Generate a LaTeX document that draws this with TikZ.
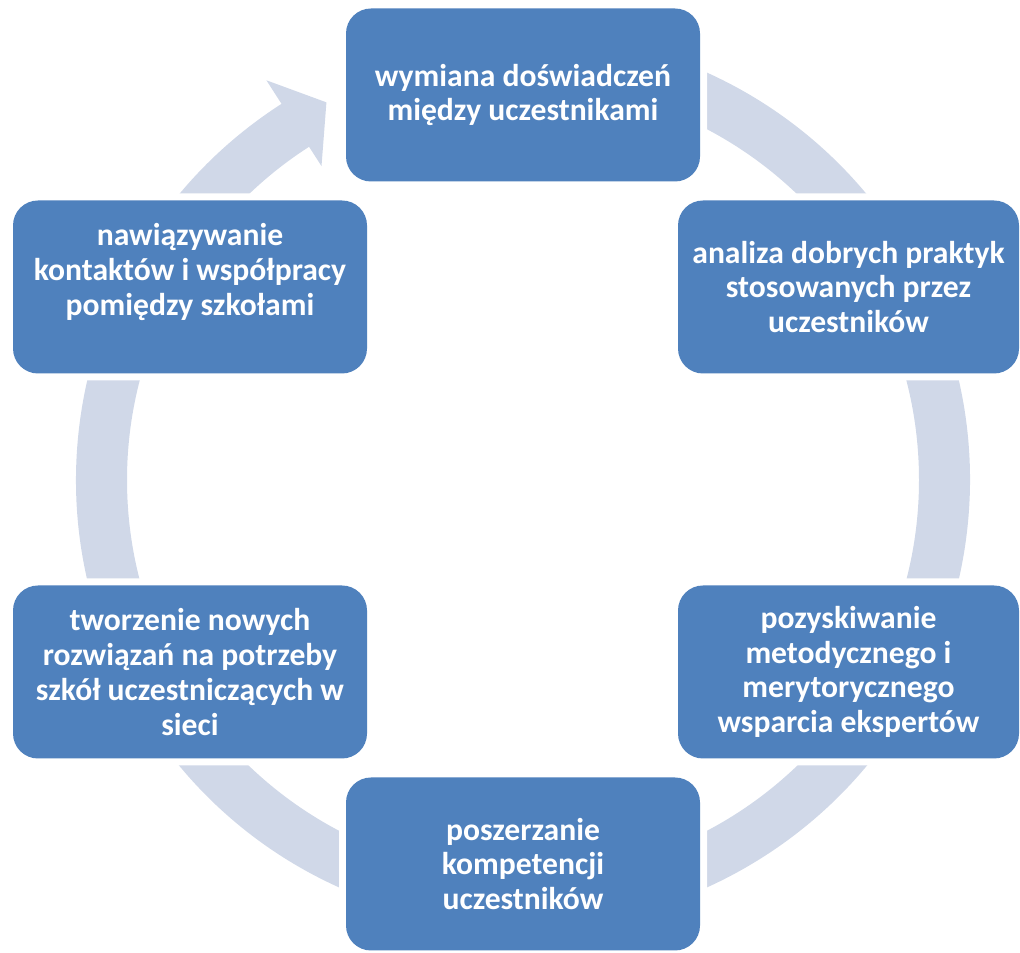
\documentclass[tikz,border=0pt]{standalone}
\usepackage{fontspec}
\setmainfont{Carlito}
\definecolor{cycleblue}{RGB}{79,129,189}
\definecolor{ringgrey}{RGB}{208,216,232}

\begin{document}
\begin{tikzpicture}[
    etap/.style={rectangle, rounded corners=0.5cm, fill=cycleblue,
        preaction={draw=white, line width=0.28cm},
        minimum width=7.08cm, minimum height=3.46cm, inner sep=2pt,
        align=center, text=white, font=\fontsize{18}{19.8}\selectfont\bfseries},
    etapwaski/.style={etap, minimum width=6.82cm}
]
\useasboundingbox (0,0) rectangle (20.4,19.06);

% pierscien ze strzalka
\begin{scope}[shift={(10.46,9.46)}]
    \fill[ringgrey] (122.7:7.92) -- (122.7:7.46) -- (117.5:8.515) -- (122.7:9.5) -- (122.7:8.94)
        arc[start angle=122.7, end angle=450, radius=8.94] -- (90:7.92)
        arc[start angle=450, end angle=122.7, radius=7.92] -- cycle;
\end{scope}

\node[etap] (wymiana) at (10.46,17.16) {wymiana doświadczeń\\między uczestnikami};
\node[etapwaski] (analiza) at (16.97,13.32) {analiza dobrych praktyk\\stosowanych przez\\uczestników};
\node[etapwaski] (wsparcie) at (16.97,5.62) {pozyskiwanie\\metodycznego i\\merytorycznego\\wsparcia ekspertów};
\node[etap] (kompetencje) at (10.46,1.78) {poszerzanie\\kompetencji\\uczestników};
\node[etap] (rozwiazania) at (3.8,5.62) {tworzenie nowych\\rozwiązań na potrzeby\\szkół uczestniczących w\\sieci};
\node[etap] (kontakty) at (3.8,13.32) {nawiązywanie\\kontaktów i współpracy\\pomiędzy szkołami\\\mbox{}};
\end{tikzpicture}
\end{document}
